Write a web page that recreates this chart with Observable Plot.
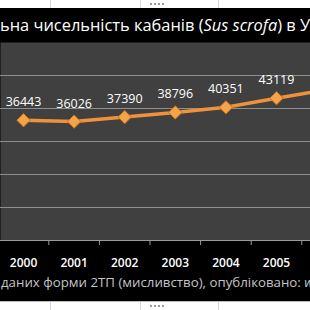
<!DOCTYPE html>
<html><head><meta charset="utf-8">
<script src="https://cdn.jsdelivr.net/npm/d3@7"></script>
<script src="https://cdn.jsdelivr.net/npm/@observablehq/plot@0.6"></script>
<style>
html,body{margin:0;padding:0;background:#fff;width:310px;height:310px;overflow:hidden;font-family:"Open Sans",sans-serif;}
#top{height:8px;position:relative;background:#fff;}
#top .v,#bot .v{position:absolute;top:0;bottom:0;width:1px;background:#d8d8d8;}
.handle{position:absolute;left:150px;width:14px;height:2px;background:repeating-linear-gradient(90deg,#999 0 2px,transparent 2px 4px);}
#title{height:34px;background:#000;color:#fff;white-space:nowrap;overflow:hidden;position:relative;}
#title span{position:absolute;left:0;top:0;}
#chart{height:228px;background:#000;}
#chart svg{display:block;}
#cap{height:31px;background:#000;color:#c4c4c4;white-space:nowrap;overflow:hidden;position:relative;}
#cap span{position:absolute;left:1px;top:0;}
#bot{height:9px;position:relative;background:#fff;border-top:1px solid #bdbdbd;box-sizing:border-box;}
</style></head>
<body>
<div id="top"><div class="v" style="left:50px"></div><div class="v" style="left:140px"></div><div class="v" style="left:218px"></div><div class="handle" style="top:3px"></div></div>
<div id="title"><span id="tt"></span></div>
<div id="chart"></div>
<div id="cap"><span id="ct"></span></div>
<div id="bot"><div class="v" style="left:50px"></div><div class="v" style="left:140px"></div><div class="v" style="left:218px"></div><div class="handle" style="top:3px"></div></div>
<script>
const years = [2000, 2001, 2002, 2003, 2004, 2005, 2006];
const values = [36443, 36026, 37390, 38796, 40351, 43119, 45700];
const shownYears = [2000, 2001, 2002, 2003, 2004, 2005];
const gridValues = [10000, 20000, 30000, 40000, 50000];
const titlePre = "ьна чисельність кабанів (";
const titleItalic = "Sus scrofa";
const titlePost = ") в Ук";
const captionText = "даних форми 2ТП (мисливство), опубліковано: ";
const captionItalic = "w";

const data = years.map((year, i) => ({year, value: values[i]}));
const labelled = data.filter(d => shownYears.includes(d.year));
const bounds = shownYears.map(y => y + 0.5);

function fit(el, parts, target, base) {
  el.innerHTML = "";
  el.style.fontSize = base + "px";
  parts.forEach(([t, it]) => {
    const s = document.createElement(it ? "i" : "span");
    s.textContent = t; s.style.position = "static";
    el.appendChild(s);
  });
  const probe = el.cloneNode(true);
  probe.style.visibility = "hidden";
  el.parentNode.appendChild(probe);
  const w = probe.getBoundingClientRect().width;
  probe.remove();
  return base * target / w;
}
const tt = document.getElementById("tt");
let fs = fit(tt, [[titlePre,0],[titleItalic,1],[") в ",0]], 296, 20);
tt.innerHTML = "";
tt.style.fontSize = fs + "px";
tt.style.lineHeight = "1";
tt.style.top = (22 - fs * 0.8) + "px";
tt.append(document.createTextNode(titlePre));
const ii = document.createElement("i"); ii.textContent = titleItalic; tt.append(ii);
tt.append(document.createTextNode(titlePost));

const ct = document.getElementById("ct");
let fc = fit(ct, [[captionText,0]], 300, 15);
ct.innerHTML = "";
ct.style.fontSize = fc + "px";
ct.style.lineHeight = "1";
ct.style.top = (17 - fc * 0.8) + "px";
ct.append(document.createTextNode(captionText));
const ci = document.createElement("i"); ci.textContent = captionItalic; ct.append(ci);

const chart = Plot.plot({
  width: 310,
  height: 228,
  marginTop: 0,
  marginBottom: 30,
  marginLeft: 0,
  marginRight: 0,
  style: {background: "#000", fontFamily: "Open Sans, sans-serif", overflow: "visible"},
  x: {domain: [1999.545, 2005.672], axis: null},
  y: {domain: [0, 60000], axis: null},
  marks: [
    Plot.frame({fill: "#404040", stroke: null}),
    Plot.ruleY(gridValues, {stroke: "#8e8e8e", strokeWidth: 1}),
    Plot.ruleY([0], {stroke: "#9a9a9a", strokeWidth: 1}),
    Plot.axisX({ticks: bounds, tickSize: 5, tickFormat: () => "", stroke: "#9a9a9a", label: null}),
    Plot.axisX({ticks: shownYears, tickSize: 0, tickPadding: 18, tickFormat: d => String(d), fill: "#fff", fontSize: 12, fontWeight: 600, label: null}),
    Plot.line(data, {x: "year", y: "value", stroke: "#f0913b", strokeWidth: 3.5, clip: true}),
    Plot.dot(labelled, {x: "year", y: "value", symbol: "diamond2", r: 6, fill: "#f4a447", stroke: "#c56f22", strokeWidth: 1}),
    Plot.text(labelled, {x: "year", y: "value", text: d => String(d.value), dy: -18, fill: "#fff", fontSize: 12.5})
  ]
});
document.getElementById("chart").append(chart);
</script>
</body></html>
